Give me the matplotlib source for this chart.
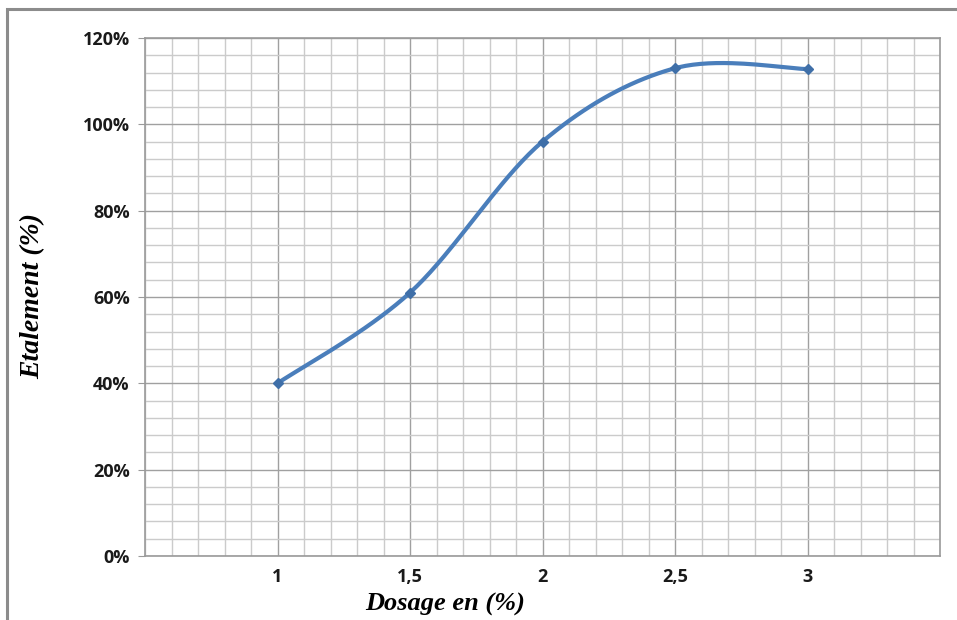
import numpy as np
import matplotlib
matplotlib.use("Agg")
import matplotlib.pyplot as plt
from matplotlib.patches import Rectangle
from matplotlib.ticker import FuncFormatter, MultipleLocator

# data
dosage = [1, 1.5, 2, 2.5, 3]
etalement = [40, 61, 96, 113, 112.8]
x_ticks = [1, 1.5, 2, 2.5, 3]
x_labels = ["1", "1,5", "2", "2,5", "3"]

# Excel-like smoothed line (cubic Bezier, Catmull-Rom control points)
def smooth(xs, ys, n=40):
    p = np.column_stack([xs, ys]).astype(float)
    out = [p[0]]
    t = np.linspace(0, 1, n)[1:, None]
    for i in range(len(p) - 1):
        prev = p[i - 1] if i > 0 else p[i]
        nxt = p[i + 2] if i + 2 < len(p) else p[i + 1]
        c0 = p[i]
        c1 = p[i] + (p[i + 1] - prev) / 6
        c2 = p[i + 1] - (nxt - p[i]) / 6
        c3 = p[i + 1]
        seg = ((1 - t) ** 3) * c0 + 3 * ((1 - t) ** 2) * t * c1 + 3 * (1 - t) * t ** 2 * c2 + t ** 3 * c3
        out.extend(seg)
    out = np.array(out)
    return out[:, 0], out[:, 1]

fig = plt.figure(figsize=(9.57, 6.2), dpi=100)

# outer chart border (cut off on the right and bottom like the screenshot)
fig.patches.append(Rectangle((7 / 957, -0.1), 1.2, 1.1 - 9 / 620,
                             transform=fig.transFigure, fill=False,
                             edgecolor="#8c8c8c", linewidth=2.2))

ax = fig.add_axes([145 / 957, 64 / 620, 795 / 957, 518 / 620])

sx, sy = smooth(dosage, etalement)
ax.plot(sx, sy, color="#4A7EBB", linewidth=3.0, solid_capstyle="round", zorder=3)
ax.plot(dosage, etalement, linestyle="none", marker="D", markersize=5,
        color="#3F6FA8", zorder=4)

ax.set_xlim(0.5, 3.5)
ax.set_ylim(0, 120)
ax.xaxis.set_major_locator(MultipleLocator(0.5))
ax.xaxis.set_minor_locator(MultipleLocator(0.1))
ax.yaxis.set_major_locator(MultipleLocator(20))
ax.yaxis.set_minor_locator(MultipleLocator(4))

ax.grid(which="minor", color="#cbcbcb", linewidth=1.0)
ax.grid(which="major", color="#a0a0a0", linewidth=1.0)
ax.set_axisbelow(True)

ax.set_xticks(x_ticks)
ax.set_xticklabels(x_labels)
ax.yaxis.set_major_formatter(FuncFormatter(lambda v, p: f"{int(round(v))}%"))

for s in ax.spines.values():
    s.set_color("#9a9a9a")
    s.set_linewidth(1.2)

ax.tick_params(axis="y", which="major", length=5, color="#9a9a9a", pad=6)
ax.tick_params(axis="x", which="major", length=0, pad=9)
ax.tick_params(which="minor", length=0)
for lab in ax.get_xticklabels() + ax.get_yticklabels():
    lab.set_fontfamily("Open Sans")
    lab.set_fontweight("bold")
    lab.set_fontsize(13)
    lab.set_color("#1a1a1a")

fig.text(445 / 957, 1 - 604 / 620, "Dosage en (%)", ha="center", va="center",
         family="Liberation Serif", style="italic", weight="bold", fontsize=19)
fig.text(33 / 957, 1 - 296 / 620, "Etalement (%)", ha="center", va="center",
         rotation=90, family="Liberation Serif", style="italic", weight="bold",
         fontsize=20)

fig.savefig("out.png", dpi=100)
